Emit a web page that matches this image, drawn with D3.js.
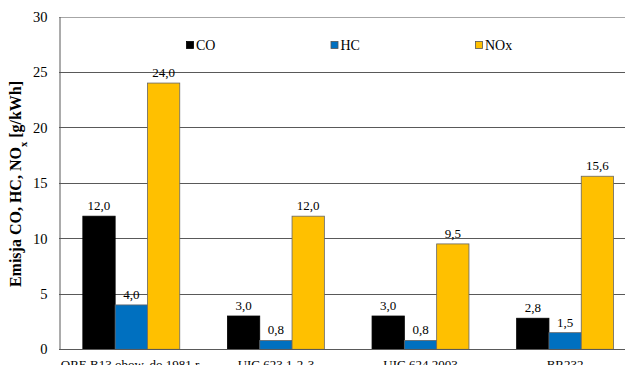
<!DOCTYPE html>
<html>
<head>
<meta charset="utf-8">
<script src="https://cdn.jsdelivr.net/npm/d3@7"></script>
<style>
  body { margin: 0; background: #fff; }
  svg text { font-family: "Liberation Serif", "Times New Roman", serif; fill: #000; }
</style>
</head>
<body>
<div id="chart"></div>
<script>
const w = 625;
const h = 365;

// data
const categories = ["ORE B13 obow. do 1981 r.", "UIC 623 1-2-3", "UIC 624 2003", "BR232"];
const seriesNames = ["CO", "HC", "NOx"];
const seriesColors = ["#000000", "#0070C0", "#FFC000"];
const CO = [12.0, 3.0, 3.0, 2.8];
const HC = [4.0, 0.8, 0.8, 1.5];
const NOx = [24.0, 12.0, 9.5, 15.6];
const yTicks = [0, 5, 10, 15, 20, 25, 30];

const values = [CO, HC, NOx];

// plot area (chart is cropped on the right, like the original)
const plotLeft = 59, plotTop = 16.5, plotBottom = 349.3, band = 144.6;

const svg = d3.select("#chart").append("svg")
  .attr("width", w)
  .attr("height", h);

const x = d3.scaleBand()
  .domain(categories)
  .range([plotLeft, plotLeft + band * categories.length])
  .padding(0);

const xs = d3.scaleBand()
  .domain(seriesNames)
  .range([0, x.bandwidth()])
  .paddingInner(0)
  .paddingOuter(0.738);

const y = d3.scaleLinear().domain([0, 30]).range([plotBottom, plotTop]);

// gridlines
svg.append("g").selectAll("line")
  .data(yTicks.filter((d) => d > 0))
  .enter().append("line")
  .attr("x1", plotLeft)
  .attr("x2", w)
  .attr("y1", (d) => Math.round(y(d)) + 0.5)
  .attr("y2", (d) => Math.round(y(d)) + 0.5)
  .attr("stroke", (d) => d === 30 ? "#a6a6a6" : "#595959")
  .attr("stroke-width", 1);

// y axis
const yAxis = d3.axisLeft(y).tickValues(yTicks).tickSize(0).tickPadding(12);
const gy = svg.append("g")
  .attr("transform", `translate(${plotLeft + 0.5},0)`)
  .call(yAxis);
gy.select(".domain").attr("stroke", "#595959");
gy.selectAll("text")
  .style("font-size", "14.5px")
  .style("font-family", "'Liberation Serif', serif");

// bars
const fmt = (v) => d3.format(".1f")(v).replace(".", ",");

const groups = svg.append("g").selectAll("g")
  .data(seriesNames)
  .enter().append("g");

groups.each(function (s, si) {
  const g = d3.select(this);
  g.selectAll("rect")
    .data(values[si])
    .enter().append("rect")
    .attr("x", (d, i) => x(categories[i]) + xs(s))
    .attr("y", (d) => y(d))
    .attr("width", xs.bandwidth())
    .attr("height", (d) => y(0) - y(d))
    .attr("fill", seriesColors[si])
    .attr("stroke", si === 0 ? "#000" : "#666")
    .attr("stroke-width", 0.8);

  g.selectAll("text")
    .data(values[si])
    .enter().append("text")
    .attr("x", (d, i) => x(categories[i]) + xs(s) + xs.bandwidth() / 2)
    .attr("y", (d) => y(d) - 6)
    .attr("text-anchor", "middle")
    .style("font-size", "13px")
    .text((d) => fmt(d));
});

// x axis line
svg.append("line")
  .attr("x1", plotLeft)
  .attr("x2", w)
  .attr("y1", Math.round(y(0)) + 0.5)
  .attr("y2", Math.round(y(0)) + 0.5)
  .attr("stroke", "#595959");

// category labels (cut off at the bottom edge, as in the original)
svg.append("g").selectAll("text")
  .data(categories)
  .enter().append("text")
  .attr("x", (d) => x(d) + x.bandwidth() / 2)
  .attr("y", 368.5)
  .attr("text-anchor", "middle")
  .style("font-size", "13px")
  .text((d) => d);

// legend
const legend = svg.append("g").selectAll("g")
  .data(seriesNames)
  .enter().append("g")
  .attr("transform", (d, i) => `translate(${186 + i * 144.5},41)`);

legend.append("rect")
  .attr("width", 7)
  .attr("height", 7)
  .attr("x", 0.5)
  .attr("y", 0.5)
  .attr("fill", (d, i) => seriesColors[i])
  .attr("stroke", (d, i) => i === 0 ? "#000" : "#555")
  .attr("stroke-width", 0.8);

legend.append("text")
  .attr("x", 10)
  .attr("y", 9)
  .style("font-size", "14px")
  .text((d) => d);

// y axis title with subscript
const title = svg.append("text")
  .attr("transform", "translate(21,184) rotate(-90)")
  .attr("text-anchor", "middle")
  .style("font-size", "16px")
  .style("font-weight", "bold");
title.append("tspan").text("Emisja CO, HC, NO");
title.append("tspan").attr("baseline-shift", "sub").style("font-size", "10.5px").text("x");
title.append("tspan").text(" [g/kWh]");
</script>
</body>
</html>
